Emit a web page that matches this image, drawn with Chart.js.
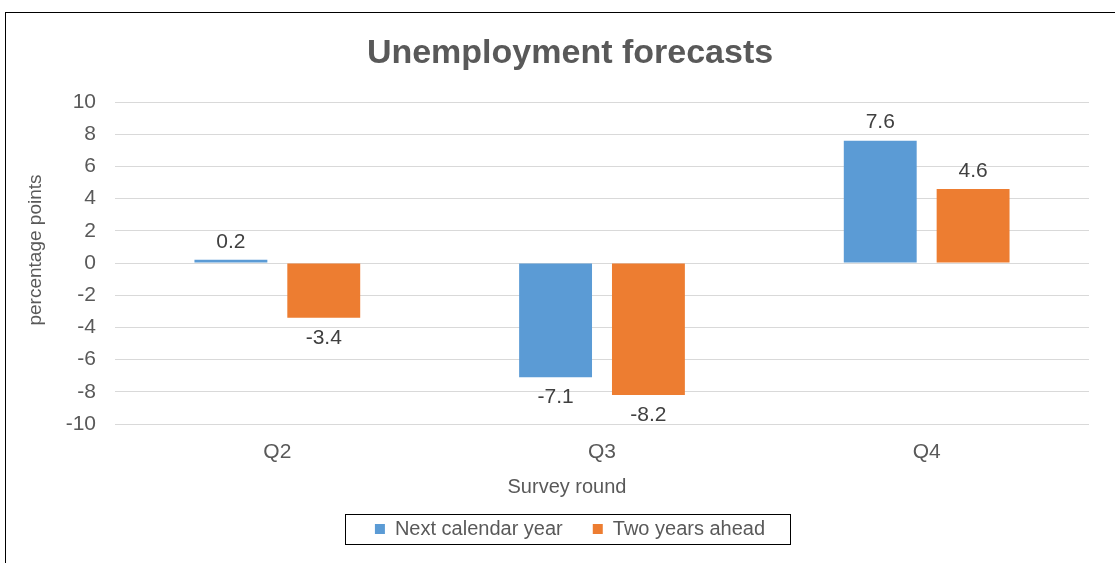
<!DOCTYPE html>
<html>
<head>
<meta charset="utf-8">
<script src="https://cdn.jsdelivr.net/npm/chart.js@4/dist/chart.umd.min.js"></script>
<style>
  html, body { margin: 0; padding: 0; background: #fff; overflow: hidden; }
  #frame { position: absolute; left: 5px; top: 12px; width: 1300px; height: 700px; border: 1px solid #000; }
  #wrap { position: absolute; left: 0; top: 0; width: 1115px; height: 563px; }
</style>
</head>
<body>
<div id="frame"></div>
<div id="wrap"><canvas id="chart"></canvas></div>
<script>
// data
var categories = ['Q2', 'Q3', 'Q4'];
var nextYear = [0.2, -7.1, 7.6];
var twoYears = [-3.4, -8.2, 4.6];
var seriesNames = ['Next calendar year', 'Two years ahead'];
var xTitle = 'Survey round';
var yTitle = 'percentage points';
var yMin = -10, yMax = 10, yStep = 2;

var FONT = '"Liberation Sans", Arial, sans-serif';
var GREY = '#595959';

// numbers above / below each bar
var valueLabels = {
	id: 'valueLabels',
	afterDatasetsDraw: function(chart) {
		var ctx = chart.ctx;
		ctx.save();
		ctx.font = '21px ' + FONT;
		ctx.fillStyle = '#404040';
		ctx.textAlign = 'center';
		ctx.textBaseline = 'middle';
		chart.data.datasets.forEach(function(ds, i) {
			chart.getDatasetMeta(i).data.forEach(function(bar, j) {
				var v = ds.data[j];
				var y = v >= 0 ? bar.y - 18 : bar.y + 20;
				ctx.fillText(v.toFixed(1), bar.x, y);
			});
		});
		ctx.restore();
	}
};

// axis titles: excel puts them a bit off the plot centre, so draw them here
var axisTitles = {
	id: 'axisTitles',
	afterDraw: function(chart) {
		var ctx = chart.ctx;
		var area = chart.chartArea;
		ctx.save();
		ctx.fillStyle = GREY;
		ctx.textAlign = 'center';
		ctx.textBaseline = 'alphabetic';
		ctx.font = '20px ' + FONT;
		ctx.fillText(xTitle, 567, area.bottom + 69);
		ctx.font = '19px ' + FONT;
		ctx.translate(41, (area.top + area.bottom) / 2 - 13);
		ctx.rotate(-Math.PI / 2);
		ctx.fillText(yTitle, 0, 0);
		ctx.restore();
	}
};

// thin box round the legend
var legendFrame = {
	id: 'legendFrame',
	afterDraw: function(chart) {
		var hb = chart.legend.legendHitBoxes;
		if (!hb || !hb.length) return;
		var last = hb[hb.length - 1];
		var left = hb[0].left - 30;
		var right = last.left + last.width + 25;
		var cy = hb[0].top + hb[0].height / 2;
		var ctx = chart.ctx;
		ctx.save();
		ctx.strokeStyle = '#000';
		ctx.lineWidth = 1;
		ctx.strokeRect(Math.round(left) + 0.5, Math.round(cy - 15) + 0.5, Math.round(right - left), 30);
		ctx.restore();
	}
};

var ctx = document.getElementById('chart').getContext('2d');
var myChart = new Chart(ctx, {
	type: 'bar',
	data: {
		labels: categories,
		datasets: [
			{
				label: seriesNames[0],
				backgroundColor: '#5B9BD5',
				data: nextYear
			},
			{
				label: seriesNames[1],
				backgroundColor: '#ED7D31',
				data: twoYears
			}
		]
	},
	options: {
		responsive: true,
		maintainAspectRatio: false,
		animation: false,
		categoryPercentage: 0.572,
		barPercentage: 0.785,
		layout: { padding: { left: 25, right: 0, top: 0, bottom: 14 } },
		plugins: {
			title: {
				display: true,
				text: 'Unemployment forecasts',
				color: GREY,
				font: { family: FONT, size: 34, weight: 'bold' },
				padding: { top: 33, bottom: 28.2 }
			},
			legend: {
				position: 'bottom',
				labels: {
					color: GREY,
					font: { family: FONT, size: 20 },
					boxWidth: 10,
					boxHeight: 10,
					padding: 30
				}
			},
			tooltip: { enabled: false }
		},
		scales: {
			x: {
				grid: { display: false, drawTicks: false },
				border: { display: false },
				ticks: { color: GREY, font: { family: FONT, size: 21 }, padding: 16 },
				afterFit: function(scale) { scale.height = 65; }
			},
			y: {
				min: yMin,
				max: yMax,
				grid: { color: '#d9d9d9', drawTicks: false },
				border: { display: false },
				ticks: { stepSize: yStep, color: GREY, font: { family: FONT, size: 21 }, padding: 19 },
				afterFit: function(scale) { scale.width = 90; }
			},
			y2: {
				position: 'right',
				grid: { display: false, drawTicks: false },
				border: { display: false },
				ticks: { display: false },
				afterFit: function(scale) { scale.width = 26; }
			}
		}
	},
	plugins: [valueLabels, axisTitles, legendFrame]
});
</script>
</body>
</html>
